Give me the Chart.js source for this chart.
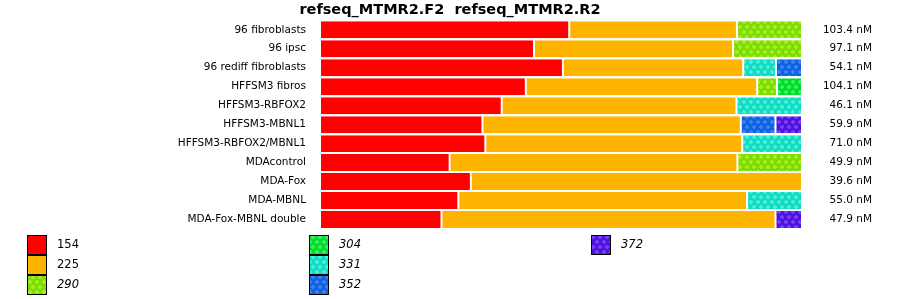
<!DOCTYPE html>
<html>
<head>
<meta charset="utf-8">
<script src="https://cdn.jsdelivr.net/npm/chart.js@4/dist/chart.umd.min.js"></script>
<style>
  html, body { margin: 0; padding: 0; background: #fff; }
  #wrap { width: 900px; height: 299px; position: relative; }
</style>
</head>
<body>
<div id="wrap"><canvas id="c"></canvas></div>
<script>
// ---- data ----
const titleText = 'refseq_MTMR2.F2  refseq_MTMR2.R2';
const categories = [
  '96 fibroblasts', '96 ipsc', '96 rediff fibroblasts', 'HFFSM3 fibros',
  'HFFSM3-RBFOX2', 'HFFSM3-MBNL1', 'HFFSM3-RBFOX2/MBNL1', 'MDAcontrol',
  'MDA-Fox', 'MDA-MBNL', 'MDA-Fox-MBNL double'
];
const seriesNames = ['154', '225', '290', '304', '331', '352', '372'];
// percent of each row
const s154 = [51.7, 44.4, 50.4, 42.7, 37.7, 33.7, 34.3, 26.9, 31.3, 28.7, 25.2];
const s225 = [34.8, 41.3, 37.4, 48.0, 48.7, 53.6, 53.3, 59.7, 68.7, 59.9, 69.3];
const s290 = [13.5, 14.3, 0, 4.1, 0, 0, 0, 13.4, 0, 0, 0];
const s304 = [0, 0, 0, 5.2, 0, 0, 0, 0, 0, 0, 0];
const s331 = [0, 0, 6.8, 0, 13.6, 0, 12.4, 0, 0, 11.4, 0];
const s352 = [0, 0, 5.4, 0, 0, 7.2, 0, 0, 0, 0, 0];
const s372 = [0, 0, 0, 0, 0, 5.5, 0, 0, 0, 0, 5.5];
const totals = [103.4, 97.1, 54.1, 104.1, 46.1, 59.9, 71.0, 49.9, 39.6, 55.0, 47.9];

// ---- styles ----
const FONT = 'DejaVu Sans';
function makePattern(base, dot) {
  const c = document.createElement('canvas');
  c.width = 14; c.height = 10;
  const g = c.getContext('2d');
  g.fillStyle = base; g.fillRect(0, 0, 14, 10);
  g.fillStyle = dot;
  const plus = (x, y) => { g.fillRect(x, y + 1, 4, 2); g.fillRect(x + 1, y, 2, 4); };
  plus(0, 0); plus(7, 0); plus(14, 0); plus(-7, 0);
  plus(3, 5); plus(10, 5); plus(-4, 5);
  return g.createPattern(c, 'repeat');
}
const fills = [
  '#ff0000',
  '#ffb400',
  makePattern('#7fdc00', '#a2ee28'),
  makePattern('#00dc28', '#3cee64'),
  makePattern('#10dcc4', '#4aeed8'),
  makePattern('#1062e0', '#3882f2'),
  makePattern('#5012e0', '#7042f0')
];
const italicSeries = [false, false, true, true, true, true, true];
const seriesData = [s154, s225, s290, s304, s331, s352, s372];

const datasets = seriesNames.map((n, i) => ({
  label: n,
  data: seriesData[i],
  backgroundColor: fills[i],
  borderColor: '#ffffff',
  borderWidth: { left: 1, right: 1, top: 0, bottom: 0 },
  borderSkipped: false,
  inflateAmount: 0,
  barPercentage: 17 / 19,
  categoryPercentage: 1
}));

const extras = {
  id: 'extras',
  afterDraw(chart) {
    const ctx = chart.ctx;
    const ys = chart.scales.y;
    ctx.save();
    // totals at right
    ctx.fillStyle = '#000';
    ctx.font = '10.5px "' + FONT + '"';
    ctx.textAlign = 'right';
    ctx.textBaseline = 'middle';
    totals.forEach((v, i) => {
      ctx.fillText(v.toFixed(1) + ' nM', 872, ys.getPixelForValue(i));
    });
    // legend: column-major, 3 rows per column
    chart.data.datasets.forEach((ds, i) => {
      const col = Math.floor(i / 3), row = i % 3;
      const bx = 27 + col * 282, by = 235 + row * 20;
      ctx.fillStyle = ds.backgroundColor;
      ctx.fillRect(bx, by, 20, 20);
      ctx.strokeStyle = '#000';
      ctx.lineWidth = 1;
      ctx.strokeRect(bx + 0.5, by + 0.5, 19, 19);
      ctx.fillStyle = '#000';
      ctx.font = (italicSeries[i] ? 'italic ' : '') + '11.5px "' + FONT + '"';
      ctx.textAlign = 'left';
      ctx.textBaseline = 'middle';
      ctx.fillText(ds.label, bx + 30, by + 10.5);
    });
    ctx.restore();
  }
};

new Chart(document.getElementById('c'), {
  type: 'bar',
  data: { labels: categories, datasets },
  options: {
    indexAxis: 'y',
    responsive: true,
    maintainAspectRatio: false,
    animation: false,
    layout: { padding: { left: 98, right: 98, top: 0, bottom: 70 } },
    plugins: {
      legend: { display: false },
      tooltip: { enabled: false },
      title: {
        display: true,
        text: titleText,
        color: '#000',
        font: { family: FONT, size: 14.5, weight: 'bold', lineHeight: 1.2 },
        padding: { top: 1, bottom: 1.6 }
      }
    },
    scales: {
      x: { display: false, stacked: true, min: 0, max: 100 },
      y: {
        stacked: true,
        grid: { display: false, drawTicks: false },
        border: { display: false },
        ticks: { color: '#000', font: { family: FONT, size: 10.5 }, padding: 14 },
        afterFit(scale) { scale.width = 222; }
      }
    }
  },
  plugins: [extras]
});
</script>
</body>
</html>
